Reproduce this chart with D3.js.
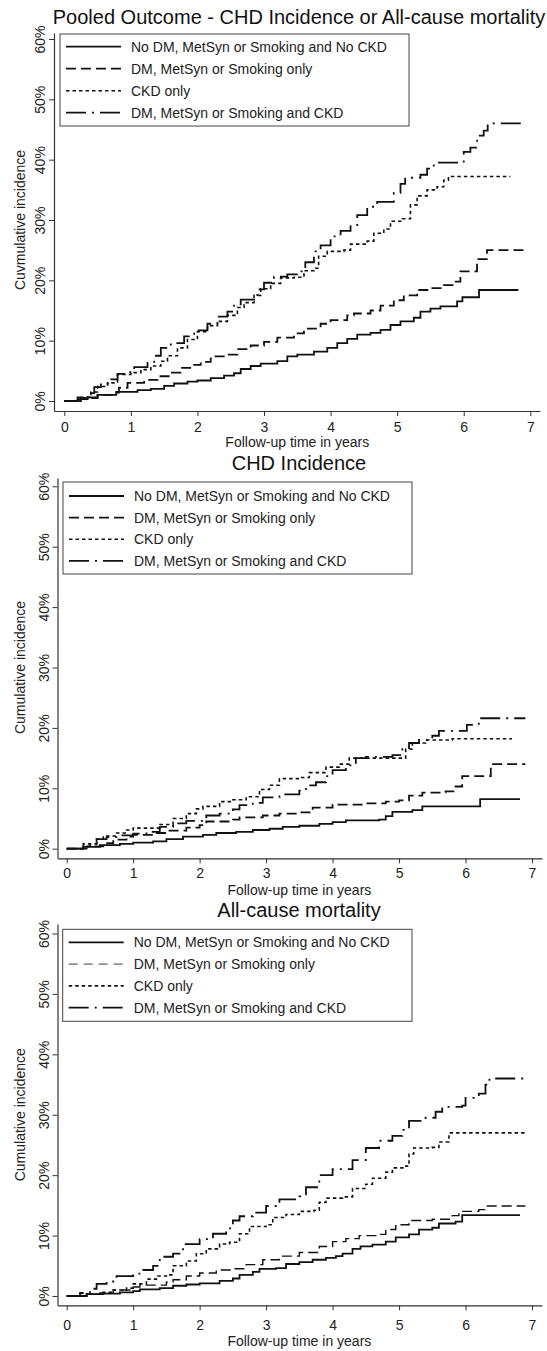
<!DOCTYPE html>
<html>
<head>
<meta charset="utf-8">
<script src="https://cdn.jsdelivr.net/npm/d3@7"></script>
<style>
body{margin:0;background:#fff;}
svg{display:block;font-family:"Liberation Sans",Arial,Helvetica,sans-serif;}
</style>
</head>
<body>
<div id="chart"></div>
<script>
// step points [years, cumulative %]
const pooledNone=[[0,0],[0.2,0.3],[0.35,0.6],[0.5,1.0],[0.78,1.5],[1.1,1.8],[1.3,2.0],[1.5,2.5],[1.65,2.9],[1.85,3.2],[2.0,3.4],[2.2,3.8],[2.4,4.2],[2.55,4.6],[2.65,5.3],[2.8,5.8],[2.95,6.2],[3.2,6.6],[3.35,7.4],[3.5,7.7],[3.75,8.2],[3.95,8.8],[4.1,9.6],[4.25,10.3],[4.4,11.0],[4.6,11.3],[4.75,11.8],[4.9,12.6],[5.05,13.2],[5.25,13.8],[5.35,14.8],[5.5,15.3],[5.65,15.7],[5.9,16.5],[5.98,17.2],[6.23,18.4],[6.82,18.4]];
const pooledRisk=[[0,0],[0.25,0.5],[0.5,1.0],[0.72,1.4],[0.82,2.2],[0.95,3.0],[1.2,3.5],[1.4,4.1],[1.6,4.7],[1.75,5.5],[1.95,6.0],[2.05,6.5],[2.2,7.4],[2.45,7.7],[2.6,8.6],[2.8,9.2],[3.0,9.8],[3.2,10.5],[3.45,11.2],[3.6,12.0],[3.85,12.8],[4.0,13.4],[4.25,14.2],[4.35,14.5],[4.6,15.0],[4.75,15.8],[4.95,16.7],[5.1,17.5],[5.3,18.4],[5.5,18.7],[5.7,19.2],[5.85,19.8],[5.95,21.5],[6.2,23.5],[6.35,25.0],[6.9,25.0]];
const pooledCkd=[[0,0],[0.25,0.6],[0.4,1.5],[0.5,2.4],[0.65,3.0],[0.8,4.4],[1.0,4.7],[1.15,5.2],[1.3,5.8],[1.45,6.6],[1.55,7.5],[1.7,8.8],[1.85,10.2],[2.0,11.5],[2.15,12.5],[2.3,13.2],[2.45,14.2],[2.6,15.5],[2.7,16.3],[2.85,17.5],[2.95,18.6],[3.1,19.5],[3.25,20.4],[3.45,20.5],[3.6,21.6],[3.75,22.0],[3.82,24.0],[3.95,24.8],[4.2,25.0],[4.3,26.0],[4.55,26.5],[4.65,27.8],[4.8,28.5],[4.9,29.8],[5.08,30.2],[5.2,32.5],[5.3,34.0],[5.45,35.0],[5.6,35.5],[5.7,36.6],[5.77,37.2],[6.7,37.2]];
const pooledBoth=[[0,0],[0.2,0.6],[0.35,1.3],[0.45,2.3],[0.55,2.9],[0.7,3.6],[0.8,4.5],[0.95,4.8],[1.05,5.6],[1.25,6.3],[1.35,7.5],[1.45,8.8],[1.6,9.6],[1.8,10.7],[1.95,11.7],[2.15,12.8],[2.3,14.0],[2.45,14.8],[2.55,16.0],[2.65,16.8],[2.85,17.2],[2.9,18.5],[3.0,19.6],[3.15,20.6],[3.35,21.0],[3.5,21.5],[3.62,23.0],[3.75,24.8],[3.85,25.8],[4.0,27.3],[4.15,28.2],[4.3,29.0],[4.4,30.8],[4.55,32.2],[4.7,33.0],[4.95,34.5],[5.05,36.0],[5.12,37.0],[5.35,37.5],[5.45,38.5],[5.55,39.5],[5.95,39.5],[6.0,41.3],[6.1,42.0],[6.2,44.0],[6.3,44.8],[6.36,46.0],[6.9,46.0]];

const chdNone=[[0,0],[0.25,0.3],[0.5,0.6],[0.8,0.8],[1.0,1.0],[1.3,1.2],[1.5,1.6],[1.75,2.0],[2.05,2.3],[2.25,2.6],[2.55,2.8],[2.8,3.1],[3.05,3.3],[3.25,3.6],[3.5,3.8],[3.8,4.1],[4.0,4.4],[4.2,4.7],[4.7,4.8],[4.8,5.4],[4.9,6.1],[5.2,6.4],[5.35,7.0],[6.22,8.2],[6.82,8.2]];
const chdRisk=[[0,0],[0.3,0.4],[0.55,0.9],[0.7,1.5],[0.9,2.0],[1.0,2.3],[1.3,2.6],[1.5,3.0],[1.8,3.5],[2.0,3.9],[2.1,4.5],[2.5,4.8],[2.6,5.2],[2.95,5.5],[3.2,5.8],[3.5,6.0],[3.7,6.8],[4.0,7.3],[4.5,7.5],[4.8,7.8],[5.0,8.0],[5.15,8.8],[5.35,9.3],[5.7,9.5],[5.85,10.3],[5.95,12.0],[6.38,14.0],[6.9,14.0]];
const chdCkd=[[0,0],[0.25,0.8],[0.45,1.6],[0.55,2.1],[0.75,2.6],[0.9,3.1],[1.0,3.4],[1.4,4.0],[1.6,5.0],[1.8,5.8],[1.95,6.6],[2.05,7.0],[2.3,7.8],[2.5,8.1],[2.7,8.6],[2.9,9.8],[3.05,10.5],[3.2,11.6],[3.5,11.8],[3.65,12.6],[3.9,13.5],[4.1,14.0],[4.25,15.0],[5.05,15.0],[5.1,16.5],[5.2,17.5],[5.4,18.0],[5.8,18.2],[6.7,18.2]];
const chdBoth=[[0,0],[0.25,0.6],[0.45,1.6],[0.6,1.9],[0.8,2.2],[1.0,2.5],[1.2,2.8],[1.4,3.6],[1.6,4.2],[1.8,4.6],[2.1,5.5],[2.3,5.8],[2.5,6.5],[2.6,7.2],[2.8,7.6],[2.95,8.5],[3.2,9.0],[3.5,9.6],[3.6,10.5],[3.75,11.0],[3.9,12.0],[4.0,13.0],[4.2,13.8],[4.35,15.0],[4.5,15.2],[4.9,15.5],[5.05,16.5],[5.15,17.5],[5.3,18.0],[5.5,18.7],[5.6,19.5],[6.02,20.5],[6.2,21.6],[6.9,21.6]];

const mortNone=[[0,0],[0.3,0.3],[0.55,0.4],[0.8,0.6],[1.0,0.8],[1.1,1.1],[1.4,1.3],[1.6,1.7],[1.8,1.9],[2.0,2.1],[2.3,2.5],[2.5,2.9],[2.6,3.5],[2.8,4.0],[2.9,4.5],[3.15,4.6],[3.3,5.3],[3.5,5.6],[3.7,6.0],[3.9,6.3],[4.05,6.6],[4.15,7.0],[4.3,7.8],[4.42,8.2],[4.6,8.5],[4.8,9.0],[4.95,9.7],[5.15,10.2],[5.3,11.0],[5.5,11.3],[5.6,12.0],[5.85,12.3],[5.95,13.4],[6.82,13.4]];
const mortRisk=[[0,0],[0.3,0.3],[0.5,0.5],[0.7,1.0],[0.95,1.5],[1.1,1.8],[1.5,2.3],[1.6,2.7],[1.8,3.3],[2.0,3.8],[2.25,4.3],[2.5,4.5],[2.7,5.2],[2.95,6.0],[3.2,6.6],[3.5,7.2],[3.8,8.2],[4.0,9.0],[4.2,9.5],[4.4,10.0],[4.65,10.2],[4.8,11.0],[4.95,11.8],[5.15,12.5],[5.5,12.7],[5.8,13.3],[5.9,14.0],[6.2,14.3],[6.3,14.9],[6.9,14.9]];
const mortCkd=[[0,0],[0.3,0.3],[0.5,0.6],[0.7,1.0],[0.9,1.3],[1.0,2.0],[1.2,2.8],[1.35,3.3],[1.5,3.5],[1.6,5.0],[1.8,5.8],[1.95,7.0],[2.1,7.8],[2.3,8.6],[2.45,8.9],[2.6,10.3],[2.75,11.5],[3.0,11.8],[3.1,13.0],[3.3,13.5],[3.5,14.0],[3.72,14.2],[3.8,15.5],[3.9,16.2],[4.15,16.4],[4.3,17.8],[4.5,18.5],[4.6,19.5],[4.8,20.5],[4.9,21.2],[5.1,21.5],[5.15,23.5],[5.22,24.5],[5.5,24.6],[5.6,25.5],[5.75,27.0],[6.9,27.0]];
const mortBoth=[[0,0],[0.2,0.5],[0.35,1.2],[0.45,2.0],[0.6,2.4],[0.75,3.3],[1.0,3.7],[1.15,4.3],[1.3,5.0],[1.4,6.5],[1.6,7.0],[1.75,8.6],[2.0,9.4],[2.2,10.3],[2.4,11.2],[2.5,12.5],[2.6,13.2],[2.8,13.8],[3.0,14.9],[3.2,16.0],[3.5,16.5],[3.6,18.0],[3.8,20.0],[4.0,21.0],[4.3,22.5],[4.5,24.5],[4.7,25.7],[4.9,26.5],[5.05,27.5],[5.15,29.0],[5.4,29.5],[5.55,30.5],[5.65,31.3],[5.95,31.5],[6.0,32.8],[6.2,33.5],[6.3,35.0],[6.36,36.0],[6.9,36.0]];

const groups=['No DM, MetSyn or Smoking and No CKD','DM, MetSyn or Smoking only','CKD only','DM, MetSyn or Smoking and CKD'];
const xTicks=[0,1,2,3,4,5,6,7];
const yTicks=[0,10,20,30,40,50,60];
const panelTitles=['Pooled Outcome - CHD Incidence or All-cause mortality','CHD Incidence','All-cause mortality'];
const yTitles=['Cuvmulative incidence','Cumulative incidence','Cumulative incidence'];
const xTitle='Follow-up time in years';

const width=547, height=1351;
const svg=d3.select('#chart').append('svg')
  .attr('width',width).attr('height',height);
svg.append('rect').attr('width',width).attr('height',height).attr('fill','#fff');

// line looks, one per group
const looks=[
  {dash:null, w:1.8, c:'#111'},
  {dash:'10,5', w:1.8, c:'#111'},
  {dash:'3.5,3', w:1.6, c:'#111'},
  {dash:'20,6,2,6', w:1.8, c:'#111'}
];

const panels=[
  {series:[pooledNone,pooledRisk,pooledCkd,pooledBoth], titleY:23.5,
   left:54, x0:64.3, x7:530.3, right:540, top:33, y0:401, y60:39, axisY:411,
   xLabY:431.5, xTitleY:447, leg:{x:60, y:34, w:349, h:92, r0:46.7, dr:22}},
  {series:[chdNone,chdRisk,chdCkd,chdBoth], titleY:470,
   left:57.5, x0:66.7, x7:532, right:542, top:478, y0:848.7, y60:486.3, axisY:858.3,
   xLabY:878.5, xTitleY:895, leg:{x:63, y:482, w:349, h:92, r0:496, dr:21.6}},
  {series:[mortNone,mortRisk,mortCkd,mortBoth], titleY:917,
   left:57.5, x0:66.7, x7:532, right:542, top:924, y0:1296, y60:933.5, axisY:1305.3,
   xLabY:1330.5, xTitleY:1345.5, leg:{x:62.7, y:929.3, w:349.3, h:92, r0:942.3, dr:21.8},
   lineOverride:{1:{w:1.4}}, legOverride:{1:{dash:'9,6', w:1.1, c:'#666'}}}
];

panels.forEach((p,pi)=>{
  const g=svg.append('g');

  const xs=d3.scaleLinear().domain([0,7]).range([p.x0,p.x7]);
  const x=xs.copy().domain([xs.invert(p.left),xs.invert(p.right)]).range([p.left,p.right]);
  const ys=d3.scaleLinear().domain([0,60]).range([p.y0,p.y60]);
  const y=ys.copy().domain([ys.invert(p.axisY),ys.invert(p.top)]).range([p.axisY,p.top]);

  g.append('text').attr('x',299).attr('y',p.titleY)
    .attr('text-anchor','middle').attr('font-size',20).attr('fill','#111')
    .text(panelTitles[pi]);

  // axes
  const xa=g.append('g').attr('transform',`translate(0,${p.axisY})`)
    .call(d3.axisBottom(x).tickValues(xTicks).tickSize(5).tickSizeOuter(0).tickFormat(d3.format('d')));
  xa.attr('font-family',null);
  xa.selectAll('text').attr('y',p.xLabY-p.axisY).attr('dy',null)
    .attr('font-size',14).attr('fill','#222');

  const ya=g.append('g').attr('transform',`translate(${p.left},0)`)
    .call(d3.axisLeft(y).tickValues(yTicks).tickSize(5).tickSizeOuter(0).tickFormat(d=>d+'%'));
  ya.attr('font-family',null);
  ya.selectAll('text').attr('x',0).attr('y',-9).attr('dy',null)
    .attr('text-anchor','middle').attr('transform','rotate(-90)')
    .attr('font-size',14).attr('fill','#222');
  [xa,ya].forEach(a=>{
    a.select('.domain').attr('stroke','#333').attr('stroke-width',1.2);
    a.selectAll('.tick line').attr('stroke','#333');
  });

  g.append('text').attr('x',xs(3.5)).attr('y',p.xTitleY)
    .attr('text-anchor','middle').attr('font-size',14).attr('fill','#222')
    .text(xTitle);
  g.append('text')
    .attr('transform',`translate(24.5,${ys(30)}) rotate(-90)`)
    .attr('text-anchor','middle').attr('font-size',14).attr('fill','#222')
    .text(yTitles[pi]);

  const look=(i,o)=>Object.assign({},looks[i],(o||{})[i]||{});

  const line=d3.line().curve(d3.curveStepAfter)
    .x(d=>xs(d[0])).y(d=>ys(d[1]));
  p.series.forEach((s,i)=>{
    const l=look(i,p.lineOverride);
    g.append('path').datum(s).attr('d',line)
      .attr('fill','none').attr('stroke',l.c).attr('stroke-width',l.w)
      .attr('stroke-dasharray',l.dash);
  });

  // legend
  const L=p.leg;
  const lg=g.append('g');
  lg.append('rect').attr('x',L.x).attr('y',L.y).attr('width',L.w).attr('height',L.h)
    .attr('fill','#fff').attr('stroke','#444').attr('stroke-width',1);
  groups.forEach((name,i)=>{
    const l=look(i,p.legOverride), ry=L.r0+i*L.dr;
    lg.append('line').attr('x1',L.x+6).attr('x2',L.x+61).attr('y1',ry).attr('y2',ry)
      .attr('stroke',l.c).attr('stroke-width',l.w).attr('stroke-dasharray',l.dash);
    lg.append('text').attr('x',L.x+71).attr('y',ry+5)
      .attr('font-size',14).attr('fill','#222').text(name);
  });
});
</script>
</body>
</html>
